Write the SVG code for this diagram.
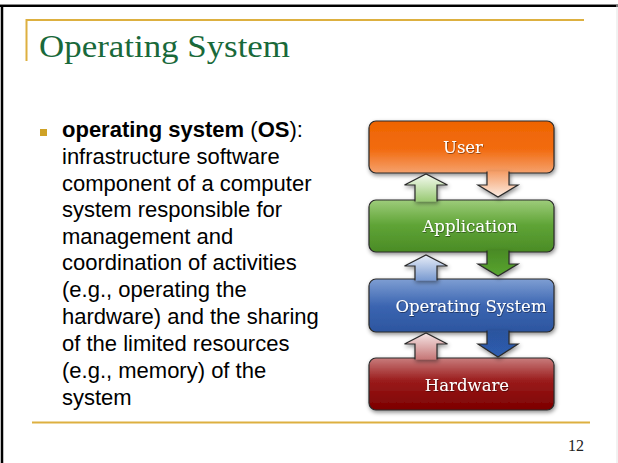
<svg xmlns="http://www.w3.org/2000/svg" width="618" height="463" viewBox="0 0 618 463">
<style>
.body{font-family:"Liberation Sans",Arial,sans-serif;font-size:22px;fill:#000}
.b{font-weight:bold}
.lbl{font-family:"DejaVu Serif",serif;font-size:16.5px;fill:#fff;text-anchor:middle}
.box{stroke:#2a2a2a;stroke-width:1.2}
.arr{stroke:#2a2a2a;stroke-width:1.2}
.gold{stroke:#ddb040;stroke-width:2;fill:none}
</style>
<defs>
<filter id="sh" x="-10%" y="-20%" width="120%" height="150%">
<feDropShadow dx="1" dy="2" stdDeviation="2" flood-color="#000" flood-opacity="0.45"/>
</filter>
<filter id="ts" x="-10%" y="-30%" width="120%" height="160%">
<feDropShadow dx="0.6" dy="0.8" stdDeviation="0.6" flood-color="#000" flood-opacity="0.5"/>
</filter>
<linearGradient id="gUser" gradientUnits="userSpaceOnUse" x1="0" y1="121" x2="0" y2="197">
<stop offset="0" stop-color="#ee6400"/><stop offset="0.38" stop-color="#f26c12"/><stop offset="0.68" stop-color="#f5a16c"/><stop offset="1" stop-color="#fcece2"/>
</linearGradient>
<linearGradient id="gApp" gradientUnits="userSpaceOnUse" x1="0" y1="174" x2="0" y2="276">
<stop offset="0" stop-color="#f6fbf2"/><stop offset="0.25" stop-color="#9fcd7c"/><stop offset="0.5" stop-color="#5fa436"/><stop offset="0.76" stop-color="#4b8c26"/><stop offset="1" stop-color="#58a52f"/>
</linearGradient>
<linearGradient id="gOS" gradientUnits="userSpaceOnUse" x1="0" y1="255" x2="0" y2="357">
<stop offset="0" stop-color="#e8eef8"/><stop offset="0.24" stop-color="#7d9dd2"/><stop offset="0.5" stop-color="#3b65b1"/><stop offset="0.76" stop-color="#2c559f"/><stop offset="1" stop-color="#2d5db0"/>
</linearGradient>
<linearGradient id="gHW" gradientUnits="userSpaceOnUse" x1="0" y1="333" x2="0" y2="410">
<stop offset="0" stop-color="#f6e6e6"/><stop offset="0.32" stop-color="#c97e7e"/><stop offset="0.62" stop-color="#9a1b1b"/><stop offset="1" stop-color="#7c0000"/>
</linearGradient>
</defs>
<rect width="618" height="463" fill="#fff"/>
<!-- slide frame -->
<line x1="0" y1="4.5" x2="618" y2="4.5" stroke="#8a8a8a" stroke-width="1"/>
<line x1="0" y1="6" x2="618" y2="6" stroke="#000" stroke-width="2"/>
<line x1="2" y1="5" x2="2" y2="463" stroke="#000" stroke-width="2.5"/>
<line x1="617" y1="5" x2="617" y2="463" stroke="#e4e4e4" stroke-width="1"/>
<!-- title decoration -->
<polyline class="gold" points="26.5,61 26.5,20 584,20"/>
<text x="39" y="57" font-family="'Liberation Serif','Times New Roman',serif" font-size="32" fill="#19693a" textLength="251" lengthAdjust="spacingAndGlyphs">Operating System</text>
<!-- bullet text -->
<rect x="40" y="129" width="7" height="7" fill="#cfa226"/>
<text class="body" x="62" y="137"><tspan class="b">operating system</tspan> (<tspan class="b">OS</tspan>):</text>
<text class="body" x="62" y="164">infrastructure software</text>
<text class="body" x="62" y="190.5">component of a computer</text>
<text class="body" x="62" y="217">system responsible for</text>
<text class="body" x="62" y="243.5">management and</text>
<text class="body" x="62" y="270">coordination of activities</text>
<text class="body" x="62" y="297">(e.g., operating the</text>
<text class="body" x="62" y="324">hardware) and the sharing</text>
<text class="body" x="62" y="351">of the limited resources</text>
<text class="body" x="62" y="378">(e.g., memory) of the</text>
<text class="body" x="62" y="405">system</text>
<line class="gold" x1="32" y1="422.5" x2="590" y2="422.5"/>
<text x="568" y="451" font-family="'Liberation Serif','Times New Roman',serif" font-size="16" fill="#222">12</text>
<!-- nodes -->
<g id="user" filter="url(#sh)">
<rect class="box" x="369" y="121" width="185" height="52" rx="7" fill="url(#gUser)"/>
</g>
<g id="application" filter="url(#sh)">
<rect class="box" x="369" y="200" width="185" height="52" rx="7" fill="url(#gApp)"/>
</g>
<g id="operating-system" filter="url(#sh)">
<rect class="box" x="369" y="279" width="185" height="53" rx="7" fill="url(#gOS)"/>
</g>
<g id="hardware" filter="url(#sh)">
<rect class="box" x="369" y="358" width="185" height="52" rx="7" fill="url(#gHW)"/>
</g>
<!-- connectors -->
<g id="connectors" filter="url(#sh)">
<path class="arr" fill="url(#gUser)" d="M487,171.5 V185 H478 L498,197 L518,185 H509 V171.5"/>
<path class="arr" fill="url(#gApp)" d="M415,201.5 V185 H404.5 L426,174 L447.5,185 H437 V201.5"/>
<path class="arr" fill="url(#gApp)" d="M487,250.5 V264 H478 L498,276 L518,264 H509 V250.5"/>
<path class="arr" fill="url(#gOS)" d="M415,280.5 V266 H404.5 L426,255 L447.5,266 H437 V280.5"/>
<path class="arr" fill="url(#gOS)" d="M487,330.5 V344 H478 L498,357 L518,344 H509 V330.5"/>
<path class="arr" fill="url(#gHW)" d="M415,359.5 V344 H404.5 L426,333 L447.5,344 H437 V359.5"/>
</g>
<!-- labels -->
<g filter="url(#ts)">
<text class="lbl" x="463" y="153">User</text>
<text class="lbl" x="470" y="232">Application</text>
<text class="lbl" x="471" y="312">Operating System</text>
<text class="lbl" x="467" y="391">Hardware</text>
</g>
</svg>
